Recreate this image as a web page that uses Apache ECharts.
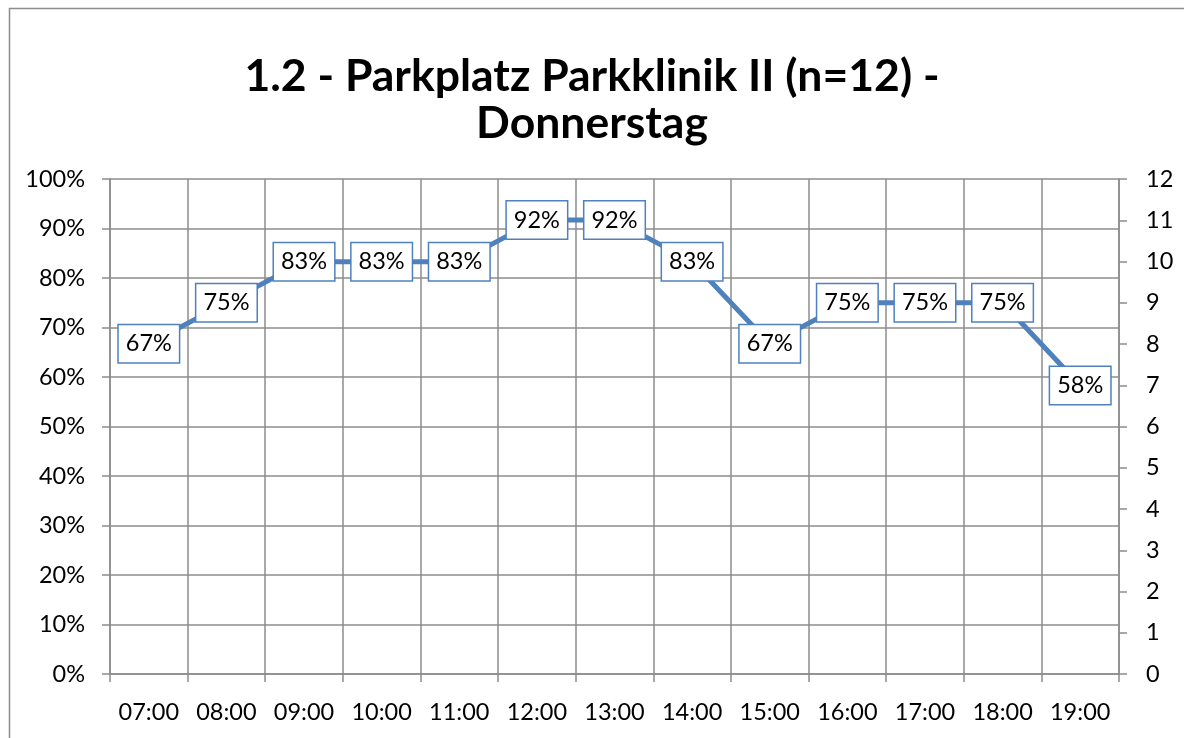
<!DOCTYPE html>
<html>
<head>
<meta charset="utf-8">
<script src="https://cdn.jsdelivr.net/npm/echarts@6/dist/echarts.min.js"></script>
<style>
html,body{margin:0;padding:0;background:#fff;}
#c{width:1184px;height:738px;}
</style>
</head>
<body>
<div id="c"></div>
<script>
const titleText = '1.2 - Parkplatz Parkklinik II (n=12) -\nDonnerstag';
const categories = ['07:00','08:00','09:00','10:00','11:00','12:00','13:00','14:00','15:00','16:00','17:00','18:00','19:00'];
const occupancyPct = [66.7, 75, 83.3, 83.3, 83.3, 91.7, 91.7, 83.3, 66.7, 75, 75, 75, 58.3];
const leftTicks = {min: 0, max: 100, interval: 10};
const rightTicks = {min: 0, max: 12, interval: 1};

const FONT = 'Lato, "Open Sans", sans-serif';
const GRID = '#8c8c8c';
const BLUE = '#4F81BD';
const FS = 23.5;

const chart = echarts.init(document.getElementById('c'), null, {renderer: 'canvas'});
chart.setOption({
  backgroundColor: '#fff',
  animation: false,
  graphic: [{
    type: 'rect',
    shape: {x: 9.5, y: 8.5, width: 1400, height: 900},
    style: {fill: 'none', stroke: '#8c8c8c', lineWidth: 1.5},
    silent: true
  }],
  title: {
    text: titleText,
    left: 'center',
    top: 48,
    textStyle: {fontFamily: FONT, fontWeight: 'bold', fontSize: 44.5, color: '#000', lineHeight: 47}
  },
  grid: {left: 110, right: 65, top: 179, bottom: 64, containLabel: false},
  xAxis: {
    type: 'category',
    data: categories,
    boundaryGap: true,
    axisLine: {show: true, lineStyle: {color: GRID, width: 1.5}},
    axisTick: {show: true, length: 8, lineStyle: {color: GRID, width: 1.5}},
    splitLine: {show: true, interval: 0, lineStyle: {color: GRID, width: 1.5}},
    axisLabel: {interval: 0, margin: 26, fontFamily: FONT, fontSize: FS, color: '#000'}
  },
  yAxis: [{
    type: 'value',
    position: 'left',
    min: leftTicks.min, max: leftTicks.max, interval: leftTicks.interval,
    axisLine: {show: true, lineStyle: {color: GRID, width: 1.5}},
    axisTick: {show: true, length: 8, lineStyle: {color: GRID, width: 1.5}},
    splitLine: {show: true, lineStyle: {color: GRID, width: 1.5}},
    axisLabel: {margin: 25, fontFamily: FONT, fontSize: FS, color: '#000', formatter: '{value}%'}
  }, {
    type: 'value',
    position: 'right',
    min: rightTicks.min, max: rightTicks.max, interval: rightTicks.interval,
    axisLine: {show: true, lineStyle: {color: GRID, width: 1.5}},
    axisTick: {show: true, length: 8, lineStyle: {color: GRID, width: 1.5}},
    splitLine: {show: false},
    axisLabel: {margin: 27, fontFamily: FONT, fontSize: FS, color: '#000'}
  }],
  series: [{
    type: 'line',
    yAxisIndex: 0,
    data: occupancyPct,
    lineStyle: {color: BLUE, width: 5},
    itemStyle: {color: BLUE},
    showSymbol: true,
    showAllSymbol: true,
    symbol: 'circle',
    symbolSize: 2,
    label: {
      show: true,
      position: 'inside',
      formatter: p => Math.round(p.value) + '%',
      fontFamily: FONT, fontSize: FS, color: '#000',
      backgroundColor: '#fff',
      borderColor: BLUE, borderWidth: 1.5,
      padding: [7, 7, 6, 7]
    }
  }]
});
</script>
</body>
</html>
